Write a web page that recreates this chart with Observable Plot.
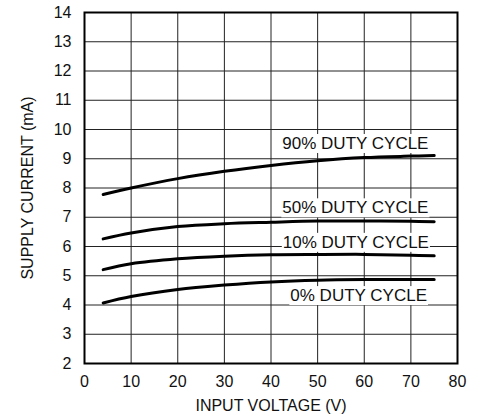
<!DOCTYPE html>
<html>
<head>
<meta charset="utf-8">
<script src="https://cdn.jsdelivr.net/npm/d3@7"></script>
<script src="https://cdn.jsdelivr.net/npm/@observablehq/plot@0.6"></script>
<style>
  html, body { margin: 0; padding: 0; background: #fff; }
  #chart { width: 482px; height: 419px; }
</style>
</head>
<body>
<div id="chart"></div>
<script>
const voltage = [4, 10, 20, 30, 40, 50, 60, 70, 75];
const duty90 = [7.78, 8.00, 8.32, 8.57, 8.77, 8.93, 9.04, 9.09, 9.11];
const duty50 = [6.26, 6.46, 6.68, 6.78, 6.83, 6.87, 6.87, 6.86, 6.85];
const duty10 = [5.21, 5.41, 5.58, 5.67, 5.72, 5.73, 5.73, 5.70, 5.68];
const duty0  = [4.07, 4.29, 4.53, 4.68, 4.79, 4.85, 4.87, 4.87, 4.87];
const seriesNames = ["90% DUTY CYCLE", "50% DUTY CYCLE", "10% DUTY CYCLE", "0% DUTY CYCLE"];
const seriesValues = [duty90, duty50, duty10, duty0];
const labelX = [58.1, 58.1, 58.2, 58.8];
const labelY = [9.52, 7.32, 6.14, 4.32];
const xTicks = [0, 10, 20, 30, 40, 50, 60, 70, 80];
const yTicks = [2, 3, 4, 5, 6, 7, 8, 9, 10, 11, 12, 13, 14];
const xTitle = "INPUT VOLTAGE (V)";
const yTitle = "SUPPLY CURRENT (mA)";

const rows = [];
seriesNames.forEach((name, i) => {
  voltage.forEach((v, j) => rows.push({series: name, x: v, y: seriesValues[i][j]}));
});
const labels = seriesNames.map((name, i) => ({text: name, x: labelX[i], y: labelY[i]}));

const font = "'Liberation Sans', Arial, Helvetica, sans-serif";

const chart = Plot.plot({
  width: 482,
  height: 419,
  marginLeft: 84,
  marginRight: 25,
  marginTop: 12,
  marginBottom: 56,
  style: {fontFamily: font, fontSize: "16px", background: "#fff", color: "#111"},
  x: {domain: [0, 80]},
  y: {domain: [2, 14]},
  marks: [
    Plot.gridX(xTicks, {stroke: "#222", strokeOpacity: 1, strokeWidth: 1}),
    Plot.gridY(yTicks, {stroke: "#222", strokeOpacity: 1, strokeWidth: 1}),
    Plot.line(rows, {x: "x", y: "y", z: "series", stroke: "#000", strokeWidth: 3, curve: "catmull-rom"}),
    Plot.text(labels, {x: "x", y: "y", text: "text", fill: "#111", fontSize: 17, textAnchor: "middle"}),
    Plot.frame({stroke: "#000", strokeWidth: 2}),
    Plot.axisX(xTicks, {tickSize: 0, tickPadding: 12, fontSize: 16, label: null}),
    Plot.axisY(yTicks, {tickSize: 0, tickPadding: 13, fontSize: 16, label: null}),
    Plot.text([xTitle], {frameAnchor: "bottom", text: d => d, dy: 42, textAnchor: "middle", lineAnchor: "middle", fontSize: 16, fill: "#111"}),
    Plot.text([yTitle], {frameAnchor: "left", text: d => d, rotate: -90, dx: -57, textAnchor: "middle", lineAnchor: "middle", fontSize: 16, fill: "#111"})
  ]
});
document.getElementById("chart").appendChild(chart);

// white boxes behind curve labels
d3.select(chart).selectAll('g[aria-label="text"] text')
  .filter(function() { return seriesNames.includes(this.textContent); })
  .each(function() {
    const b = this.getBBox();
    const r = document.createElementNS("http://www.w3.org/2000/svg", "rect");
    r.setAttribute("x", b.x - 1);
    r.setAttribute("y", b.y);
    r.setAttribute("width", b.width + 2);
    r.setAttribute("height", b.height);
    r.setAttribute("fill", "#fff");
    const t = this.getAttribute("transform");
    if (t) r.setAttribute("transform", t);
    this.parentNode.insertBefore(r, this);
  });
</script>
</body>
</html>
